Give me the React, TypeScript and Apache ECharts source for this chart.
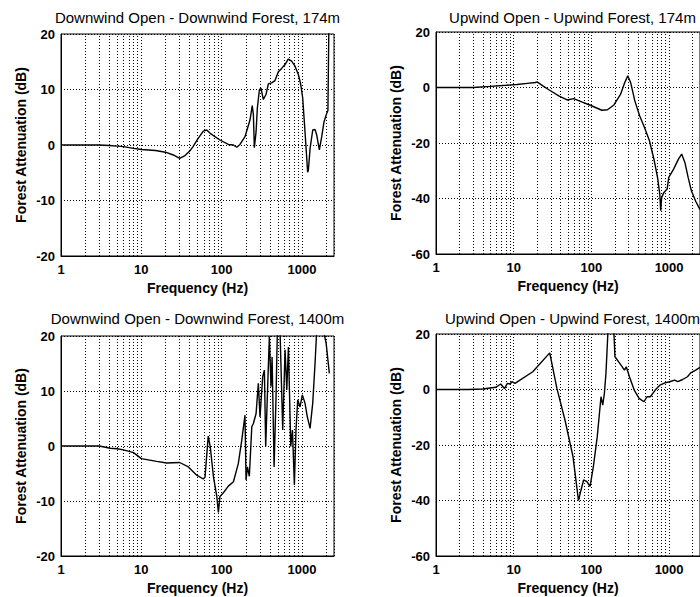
import React, { useEffect, useRef } from "react";
import * as echarts from "echarts";

// ---- Axis / tick data ----
const minorFreqs = [2, 3, 4, 5, 6, 7, 8, 9, 20, 30, 40, 50, 60, 70, 80, 90, 200, 300, 400, 500, 600, 700, 800, 900, 2000];
const panelTitles = [
  "Downwind Open - Downwind Forest, 174m",
  "Upwind Open - Upwind Forest, 174m",
  "Downwind Open - Downwind Forest, 1400m",
  "Upwind Open - Upwind Forest, 1400m",
];
const xAxisName = "Frequency (Hz)";
const yAxisName = "Forest Attenuation (dB)";

// ---- Series data ----
const dw174Freq = [1, 2, 3, 4, 5, 6, 8, 10, 15, 20, 25, 30, 35, 40, 44, 50, 59, 65, 72, 95, 121, 140, 154, 169, 195, 225, 240, 248, 255, 268, 278, 295, 309, 330, 356, 381, 419, 461, 507, 558, 614, 676, 743, 818, 900, 964, 1019, 1089, 1175, 1200, 1260, 1359, 1452, 1524, 1643, 1759, 1879, 2028, 2100, 2160];
const dw174Att = [0, 0, 0, -0.1, -0.2, -0.3, -0.6, -0.8, -1.0, -1.3, -1.8, -2.4, -1.9, -1.1, -0.3, 1.0, 2.5, 2.7, 2.1, 0.9, 0.1, 0, -0.4, 0.1, 1.5, 4.5, 7.1, 5.5, -0.5, 2.4, 6.7, 10, 10.2, 8.2, 9.1, 11, 11.2, 11.6, 13.2, 13.8, 14.5, 15.5, 15.1, 14.2, 12.7, 10.9, 8.5, 2.4, -4.9, -4.5, -0.6, 2.7, 2.8, 1.8, -0.9, 1.5, 4.2, 5.7, 6.2, 22];

const uw174Freq = [1, 2, 3, 5, 8, 11, 15, 19, 20, 24, 29, 38.5, 48.8, 59, 75, 95, 115, 136, 161, 195, 237, 268, 294, 321, 363, 419, 484, 559, 645, 710, 759, 780, 803, 859, 944, 991, 1143, 1320, 1452, 1597, 1759, 1936, 2200, 2500];
const uw174Att = [0, 0, 0, 0.4, 0.8, 1.1, 1.5, 1.8, 2, 0.5, -1, -3.1, -4.5, -4, -5.2, -6.3, -7.3, -8.2, -8, -6.3, -2.5, 1.7, 4.2, 1.7, -4.9, -10.3, -14.5, -19.2, -26.4, -32.4, -38.4, -44.4, -39.6, -37.8, -36.6, -32.4, -29.4, -25.8, -24, -27, -32.4, -37.2, -41, -44];

const dw1400Freq = [1, 2, 3, 4.1, 5, 6, 8, 10, 15.5, 20.7, 30, 38.5, 48.9, 59, 62, 68, 72, 79, 87, 91, 95, 105, 121, 140, 161, 178, 195, 201, 209, 221, 237, 248, 268, 286, 300, 324, 340, 353, 370, 392, 411, 424, 449, 475, 493, 532, 575, 615, 646, 677, 724, 760, 803, 841, 884, 944, 1009, 1089, 1164, 1259, 1359, 1452, 1523, 1845, 1995, 2188];
const dw1400Att = [0, 0, 0, -0.4, -0.5, -0.7, -1.2, -2.3, -2.8, -3.1, -3, -3.8, -5.3, -6, -5.7, 1.8, -0.1, -5.6, -9.2, -12.1, -9.2, -8.5, -7.3, -6.5, -3.2, 1.1, 5.6, -6.2, -3.8, -5.5, 3.5, 4.1, 5.9, 11.4, 5.3, 12.6, 13.8, -0.1, 9, 19.9, 10.8, 16.2, -3.8, 9, 21, 21, 2.9, 17.5, 10.2, 18, -0.1, 2.9, -7.1, 2.9, 8.4, 7.1, 9.3, 7.8, 5.3, 3.2, 7.8, 15, 21, 21, 18.7, 13.2];

const uw1400Freq = [1, 1.33, 2.6, 4, 5.9, 6.8, 7.6, 8.3, 9, 9.5, 10.4, 17.6, 29.1, 36, 45.7, 58, 68.2, 73.6, 79.4, 87.5, 96.2, 106, 119, 133, 140, 147, 154, 166, 192, 201, 232, 267, 281, 309, 356, 411, 475, 522, 574, 663, 765, 883, 1019, 1177, 1295, 1494, 1725, 1897, 2200, 2500];
const uw1400Att = [0, 0, 0, 0.2, 0.8, 2, 0.35, 2.2, 2, 2.8, 2.2, 6.4, 13.2, 0.4, -11, -24.2, -40, -36.2, -32.6, -33.2, -34.9, -27.8, -17, -2.6, -5.6, -1.4, 5.8, 25, 25, 11.8, 9.4, 7, 8.2, 4.6, -0.2, -3.2, -4.4, -2.6, -2.6, -0.2, 1.6, 2.4, 2.8, 3.4, 2.8, 3.6, 4.6, 6, 7, 8];

const seriesFreqs = [dw174Freq, uw174Freq, dw1400Freq, uw1400Freq];
const seriesAtts = [dw174Att, uw174Att, dw1400Att, uw1400Att];
const yRanges = [
  { min: -20, max: 20, interval: 10 },
  { min: -60, max: 20, interval: 20 },
  { min: -20, max: 20, interval: 10 },
  { min: -60, max: 20, interval: 20 },
];

// ---- Layout (positions only) ----
const grids = [
  { left: 61, top: 34, width: 273, height: 222 },
  { left: 436, top: 32, width: 273, height: 222 },
  { left: 61, top: 336, width: 273, height: 220 },
  { left: 436, top: 334, width: 273, height: 222 },
];
const titleTops = [10, 10, 311, 311];

const FONT = "'Liberation Sans', Arial, sans-serif";
const dotted = { color: "#000", width: 1, type: [1, 2] as number[] };

export default function App() {
  const ref = useRef<HTMLDivElement>(null);
  useEffect(() => {
    if (!ref.current) return;
    const chart = echarts.init(ref.current, null, { renderer: "svg" });
    const option: any = {
      animation: false,
      backgroundColor: "#fff",
      textStyle: { fontFamily: FONT },
      title: panelTitles.map((t, i) => ({
        text: t,
        left: grids[i].left + grids[i].width / 2,
        top: titleTops[i],
        textAlign: "center",
        padding: 0,
        textStyle: { fontFamily: FONT, fontSize: 15, fontWeight: "normal", color: "#000" },
      })),
      grid: grids.map((g) => ({
        ...g,
        show: true,
        borderColor: "#000",
        borderWidth: 1,
        backgroundColor: "transparent",
        containLabel: false,
      })),
      xAxis: grids.map((_, i) => ({
        type: "log",
        logBase: 10,
        gridIndex: i,
        min: 1,
        max: 2500,
        name: xAxisName,
        nameLocation: "middle",
        nameGap: 25,
        nameTextStyle: { fontFamily: FONT, fontSize: 14, fontWeight: "bold", color: "#000" },
        axisLine: { show: true, onZero: false, lineStyle: { color: "#000", width: 1 } },
        axisTick: { show: false },
        axisLabel: {
          color: "#000",
          fontFamily: FONT,
          fontSize: 13,
          fontWeight: "bold",
          margin: 7,
          showMaxLabel: false,
          formatter: (v: number) => String(Math.round(v)),
        },
        splitLine: { show: true, lineStyle: dotted },
        minorTick: { show: false },
      })),
      yAxis: grids.map((_, i) => ({
        type: "value",
        gridIndex: i,
        min: yRanges[i].min,
        max: yRanges[i].max,
        interval: yRanges[i].interval,
        name: yAxisName,
        nameLocation: "middle",
        nameGap: 33,
        nameTextStyle: { fontFamily: FONT, fontSize: 14, fontWeight: "bold", color: "#000" },
        axisLine: { show: true, onZero: false, lineStyle: { color: "#000", width: 1 } },
        axisTick: { show: false },
        axisLabel: { color: "#000", fontFamily: FONT, fontSize: 13, fontWeight: "bold", margin: 6 },
        splitLine: { show: true, lineStyle: dotted },
      })),
      series: seriesFreqs.map((fr, i) => ({
        type: "line",
        xAxisIndex: i,
        yAxisIndex: i,
        data: fr.map((f, k) => [f, seriesAtts[i][k]]),
        showSymbol: false,
        symbol: "none",
        clip: true,
        lineStyle: { color: "#000", width: 1.4 },
        markLine: {
          silent: true,
          symbol: ["none", "none"],
          label: { show: false },
          lineStyle: dotted,
          animation: false,
          data: minorFreqs.map((f) => ({ xAxis: f })),
        },
      })),
    };
    chart.setOption(option);
    return () => chart.dispose();
  }, []);
  return (
    <div
      ref={ref}
      style={{ position: "fixed", left: 0, top: 0, width: 700, height: 597, background: "#fff" }}
    />
  );
}
